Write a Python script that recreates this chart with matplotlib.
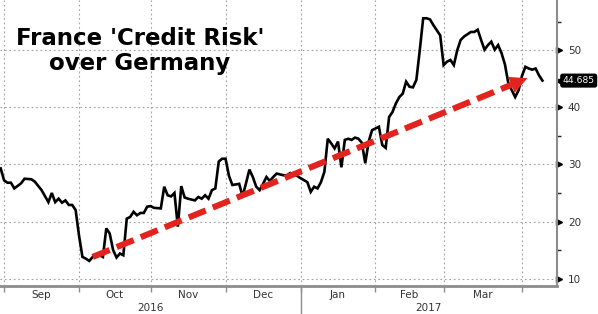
import numpy as np
import matplotlib
matplotlib.use("Agg")
import matplotlib.pyplot as plt
import matplotlib.transforms as mtransforms

start = "2016-08-31"
obs_bday = [0, 1, 2, 3, 4, 6, 7, 9, 10, 12, 14, 15, 16, 17, 18, 19, 20, 21, 22, 23,
            24, 25, 26, 27, 28, 29, 30, 31, 32, 33, 34, 35, 36, 37, 38, 39, 40, 41, 42, 43,
            44, 45, 47, 48, 49, 50, 51, 52, 53, 54, 55, 57, 58, 59, 60, 61, 62, 63, 64, 65,
            66, 67, 68, 69, 70, 71, 72, 73, 74, 75, 76, 77, 78, 79, 80, 81, 83, 84, 85, 86,
            87, 88, 90, 91, 92, 93, 94, 95, 96, 97, 98, 99, 100, 101, 102, 103, 104, 105, 106, 107,
            108, 109, 110, 111, 112, 113, 114, 115, 116, 117, 118, 119, 120, 121, 122, 123, 124, 125, 126, 127,
            128, 129, 130, 131, 132, 133, 134, 135, 136, 138, 139, 140, 141, 142, 143, 144, 145, 146, 147, 148,
            149, 150, 151, 152, 153, 154, 155, 156, 157, 158, 159]
spread = [29.3, 27.2, 26.8, 26.8, 25.8, 26.7, 27.5, 27.4, 27.0, 25.5, 23.4, 25.0, 23.4, 24.0, 23.3, 23.7, 22.9, 22.9, 22.0, 17.5,
          13.8, 13.5, 13.1, 13.8, 14.1, 14.1, 13.8, 18.8, 17.9, 15.0, 13.7, 14.4, 14.1, 20.5, 20.8, 21.7, 21.1, 21.5, 21.5, 22.6,
          22.7, 22.4, 22.3, 26.1, 24.6, 24.4, 25.0, 19.1, 26.2, 24.2, 24.0, 23.7, 24.3, 24.0, 24.6, 24.0, 25.5, 25.8, 30.5, 31.0,
          31.0, 28.0, 26.4, 26.5, 26.6, 24.4, 26.7, 29.1, 27.8, 26.1, 25.5, 26.6, 27.8, 27.1, 27.8, 28.4, 28.1, 28.1, 28.5, 28.2,
          28.0, 27.6, 26.9, 25.2, 26.1, 25.8, 26.9, 28.7, 34.5, 33.7, 32.8, 34.0, 29.5, 34.3, 34.5, 34.3, 34.7, 34.5, 33.8, 30.2,
          34.0, 36.0, 36.3, 36.6, 33.4, 32.9, 38.3, 39.2, 40.7, 41.8, 42.4, 44.5, 43.6, 43.5, 44.8, 50.0, 55.6, 55.6, 55.4, 54.4,
          53.5, 52.6, 47.4, 48.0, 48.3, 47.4, 50.0, 51.8, 52.4, 53.2, 53.2, 53.6, 51.8, 50.1, 50.9, 51.5, 50.1, 50.9, 49.5, 47.5,
          44.2, 43.0, 41.8, 43.0, 45.5, 47.1, 46.8, 46.6, 46.8, 45.6, 44.685]

month_starts = ["2016-09-01", "2016-10-01", "2016-11-01", "2016-12-01", "2017-01-01",
                "2017-02-01", "2017-03-01", "2017-04-01"]
month_labels = ["Sep", "Oct", "Nov", "Dec", "Jan", "Feb", "Mar"]
year_labels = ["2016", "2017"]
y_major = [10, 20, 30, 40, 50]
y_minor = [15, 25, 35, 45, 55]

# red trend arrow (bday, value)
arrow_from = (27, 13.8)
arrow_to = (154.6, 45.1)

RED = "#e3231d"
GRID = "#a0a0a0"
AXIS = "#8c8c8c"
TXT = "#333333"

obs_dates = np.busday_offset(start, obs_bday)
x = np.busday_count(start, obs_dates)
mstart = np.busday_count(start, np.busday_offset(month_starts, 0, roll="forward"))
mid = (mstart[:-1] + mstart[1:]) / 2

fig = plt.figure(figsize=(5.98, 3.14), dpi=100)
ax = fig.add_axes([0.0, 0.089, 0.931, 0.911])
ax.set_xlim(-0.2, 163.2)
ax.set_ylim(8.7, 58.8)

# grid
for v in y_major:
    ax.axhline(v, color=GRID, lw=0.8, ls=(0, (1.5, 2.5)), zorder=0)
for m in mstart:
    ax.axvline(m, color=GRID, lw=0.8, ls=(0, (1.5, 2.5)), zorder=0)

ax.plot(x, spread, color="black", lw=1.9, zorder=3, solid_joinstyle="miter")

# dashed trend arrow
fig.canvas.draw()
p0 = ax.transData.transform(arrow_from)
p1 = ax.transData.transform(arrow_to)
d = (p1 - p0) / np.hypot(*(p1 - p0))
shaft_end = ax.transData.inverted().transform(p1 - d * 12)
ax.plot([arrow_from[0], shaft_end[0]], [arrow_from[1], shaft_end[1]], color=RED,
        lw=4.4, ls=(0, (3.0, 1.25)), solid_capstyle="butt", dash_capstyle="butt", zorder=5)
ax.annotate("", xy=arrow_to, xytext=tuple(shaft_end),
            arrowprops=dict(arrowstyle="-|>,head_length=1.25,head_width=0.62",
                            color=RED, lw=0, shrinkA=0, shrinkB=0), zorder=6)

# spines
for s in ["left", "top"]:
    ax.spines[s].set_visible(False)
ax.spines["right"].set_color(AXIS)
ax.spines["right"].set_linewidth(1.5)
ax.spines["bottom"].set_color(AXIS)
ax.spines["bottom"].set_linewidth(2.0)

# y axis on the right with triangle ticks
ax.yaxis.tick_right()
ax.set_yticks(y_major)
ax.set_yticks(y_minor, minor=True)
ax.tick_params(axis="y", which="major", length=0, pad=8, labelsize=7.5, labelcolor=TXT)
ax.tick_params(axis="y", which="minor", length=3, width=1, color="#222222", direction="out")
ytr = ax.get_yaxis_transform()
ax.plot([1.0] * len(y_major), y_major, ls="none", marker=">", ms=4.5, color="black",
        transform=mtransforms.offset_copy(ytr, fig=fig, x=2.5, units="dots"), clip_on=False)

# x axis: month boundaries as ticks, labels centred on months
ax.set_xticks(mstart, minor=True)
ax.set_xticks(mid)
ax.set_xticklabels(month_labels)
ax.tick_params(axis="x", which="major", length=0, pad=3, labelsize=7.5, labelcolor=TXT)
ax.tick_params(axis="x", which="minor", length=4, width=1, color=AXIS, direction="out")

xtr = ax.get_xaxis_transform()
jan = mstart[4]
ax.plot([jan, jan], [0, -0.11], color=AXIS, lw=1, transform=xtr, clip_on=False)
lo, hi = ax.get_xlim()
for lab, cx in zip(year_labels, [(lo + jan) / 2, (jan + hi) / 2]):
    ax.text(cx, -0.075, lab, transform=xtr, ha="center", va="center", fontsize=7.5, color=TXT)

# last value tag
last = spread[-1]
ax.plot([1.0], [last], marker="<", ms=7, color="black", ls="none",
        transform=mtransforms.offset_copy(ytr, fig=fig, x=4, units="dots"), clip_on=False)
ax.annotate(f"{last:.3f}", xy=(1.0, last), xycoords=ytr, xytext=(4.3, 0), textcoords="offset points",
            ha="left", va="center", color="white", fontsize=6.6,
            bbox=dict(boxstyle="round,pad=0.2,rounding_size=0.2", fc="black", ec="black"),
            annotation_clip=False)

fig.text(140 / 598, 1 - 51 / 314, "France 'Credit Risk'\nover Germany", ha="center", va="center",
         fontsize=16.5, fontweight="bold", color="black", linespacing=1.15)

fig.savefig("out.png", dpi=100, facecolor="white")
